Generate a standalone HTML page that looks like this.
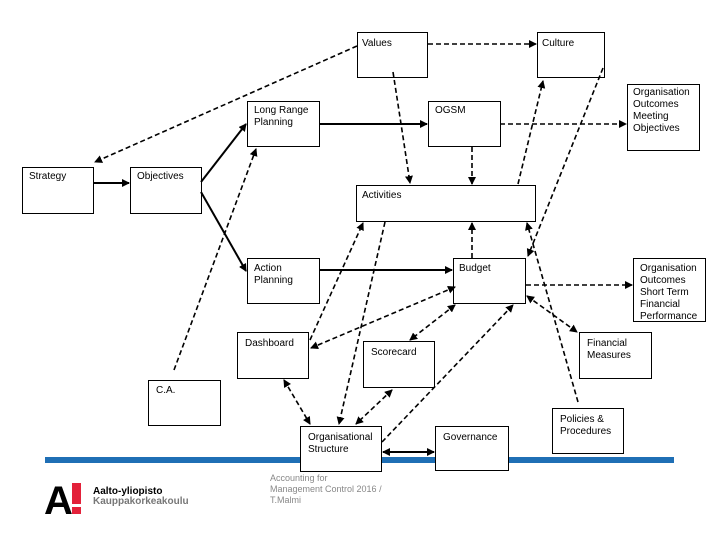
<!DOCTYPE html>
<html><head><meta charset="utf-8"><style>
body{margin:0;width:720px;height:540px;background:#fff;overflow:hidden;font-family:"Liberation Sans",sans-serif;}
svg{position:absolute;left:0;top:0}
text{font-family:"Liberation Sans",sans-serif;font-size:10px;fill:#000}
</style></head><body>
<svg width="720" height="540" viewBox="0 0 720 540">
<defs>
<marker id="a" markerWidth="8" markerHeight="8" refX="7" refY="4" orient="auto" markerUnits="userSpaceOnUse"><path d="M0,0 L8,4 L0,8 z" fill="#000"/></marker>
<marker id="s" markerWidth="8" markerHeight="8" refX="1" refY="4" orient="auto" markerUnits="userSpaceOnUse"><path d="M8,0 L0,4 L8,8 z" fill="#000"/></marker>
</defs>
<rect x="45" y="457" width="629" height="6" fill="#1f6fb5"/>
<g fill="#fff" stroke="#000" stroke-width="1">
<rect x="357.5" y="32.5" width="70" height="45"/>
<rect x="537.5" y="32.5" width="67" height="45"/>
<rect x="247.5" y="101.5" width="72" height="45"/>
<rect x="428.5" y="101.5" width="72" height="45"/>
<rect x="627.5" y="84.5" width="72" height="66"/>
<rect x="22.5" y="167.5" width="71" height="46"/>
<rect x="130.5" y="167.5" width="71" height="46"/>
<rect x="356.5" y="185.5" width="179" height="36"/>
<rect x="247.5" y="258.5" width="72" height="45"/>
<rect x="453.5" y="258.5" width="72" height="45"/>
<rect x="633.5" y="258.5" width="72" height="63"/>
<rect x="237.5" y="332.5" width="71" height="46"/>
<rect x="363.5" y="341.5" width="71" height="46"/>
<rect x="579.5" y="332.5" width="72" height="46"/>
<rect x="148.5" y="380.5" width="72" height="45"/>
<rect x="300.5" y="426.5" width="81" height="45"/>
<rect x="435.5" y="426.5" width="73" height="44"/>
<rect x="552.5" y="408.5" width="71" height="45"/>
</g>
<g stroke="#000" stroke-width="2" fill="none" marker-end="url(#a)">
<line x1="93" y1="183" x2="129" y2="183"/>
<line x1="201" y1="182" x2="246" y2="124"/>
<line x1="201" y1="192" x2="246" y2="271"/>
<line x1="320" y1="124" x2="427" y2="124"/>
<line x1="320" y1="270" x2="452" y2="270"/>
<line x1="383" y1="452" x2="434" y2="452" marker-start="url(#s)"/>
</g>
<g stroke="#000" stroke-width="1.6" stroke-dasharray="5,3" fill="none" marker-end="url(#a)">
<line x1="357" y1="46" x2="95" y2="162"/>
<line x1="428" y1="44" x2="536" y2="44"/>
<path d="M393,72 Q402,130 410,183"/>
<line x1="500" y1="124" x2="626" y2="124"/>
<line x1="472" y1="147" x2="472" y2="184"/>
<line x1="518" y1="184" x2="543" y2="81"/>
<line x1="603" y1="68" x2="528" y2="256"/>
<line x1="174" y1="370" x2="256" y2="149"/>
<line x1="472" y1="258" x2="472" y2="223"/>
<line x1="526" y1="285" x2="632" y2="285"/>
<line x1="455" y1="287" x2="311" y2="348" marker-start="url(#s)"/>
<line x1="310" y1="340" x2="363" y2="223"/>
<line x1="385" y1="222" x2="339" y2="424"/>
<line x1="455" y1="305" x2="410" y2="340" marker-start="url(#s)"/>
<line x1="392" y1="390" x2="356" y2="424" marker-start="url(#s)"/>
<line x1="284" y1="380" x2="310" y2="424" marker-start="url(#s)"/>
<line x1="382" y1="442" x2="513" y2="305"/>
<line x1="527" y1="296" x2="577" y2="332" marker-start="url(#s)"/>
<line x1="578" y1="402" x2="527" y2="223"/>
</g>
<text x="362" y="46">Values</text>
<text x="542" y="46">Culture</text>
<text x="254" y="113">Long Range</text><text x="254" y="125">Planning</text>
<text x="435" y="113">OGSM</text>
<text x="633" y="95">Organisation</text><text x="633" y="107">Outcomes</text><text x="633" y="119">Meeting</text><text x="633" y="131">Objectives</text>
<text x="29" y="179">Strategy</text>
<text x="137" y="179">Objectives</text>
<text x="362" y="198">Activities</text>
<text x="254" y="271">Action</text><text x="254" y="283">Planning</text>
<text x="459" y="271">Budget</text>
<text x="640" y="271">Organisation</text><text x="640" y="283">Outcomes</text><text x="640" y="295">Short Term</text><text x="640" y="307">Financial</text><text x="640" y="319">Performance</text>
<text x="245" y="346">Dashboard</text>
<text x="371" y="355">Scorecard</text>
<text x="587" y="346">Financial</text><text x="587" y="358">Measures</text>
<text x="156" y="393">C.A.</text>
<text x="308" y="440">Organisational</text><text x="308" y="452">Structure</text>
<text x="443" y="440">Governance</text>
<text x="560" y="422">Policies &amp;</text><text x="560" y="434">Procedures</text>
<g style="font-size:9px;fill:#888"><text x="270" y="481" style="font-size:9px;fill:#888">Accounting for</text><text x="270" y="492" style="font-size:9px;fill:#888">Management Control 2016 /</text><text x="270" y="503" style="font-size:9px;fill:#888">T.Malmi</text></g>
<text x="44" y="514" style="font-size:40px;font-weight:bold;fill:#000">A</text>
<rect x="72" y="483" width="9" height="21" fill="#e3213a"/>
<rect x="72" y="507" width="9" height="7" fill="#e3213a"/>
<text x="93" y="494" style="font-size:10px;font-weight:bold">Aalto-yliopisto</text>
<text x="93" y="504" style="font-size:10px;font-weight:bold;fill:#777">Kauppakorkeakoulu</text>
</svg>
</body></html>
